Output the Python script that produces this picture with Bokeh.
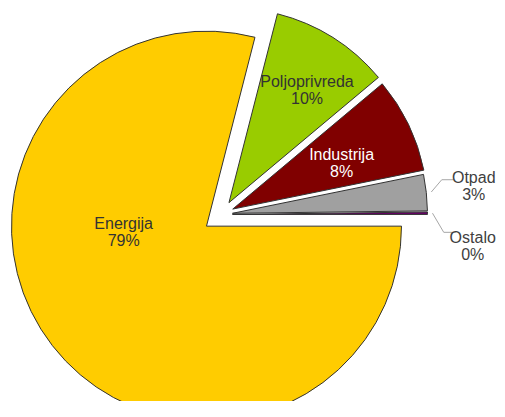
import math
from bokeh.plotting import figure
from bokeh.models import Range1d
from bokeh.embed import file_html
from bokeh.resources import INLINE
from bokeh.core.properties import value

# ---- data ----
categories = ["Energija", "Poljoprivreda", "Industrija", "Otpad", "Ostalo"]
shares = [79.0, 9.9, 7.9, 3.0, 0.2]

# ---- style / layout ----
colors = ["#FFCC00", "#99CC00", "#800000", "#A0A0A0", "#660066"]
explode = [19, 14, 12.5, 11, 11]           # px along mid-angle
text_colors = ["#333333", "#333333", "#FFFFFF", "#404040", "#404040"]
inside = [True, True, True, False, False]
label_dist = [83, 137, 118, 0, 0]
label_dang = [-34.0, -2.5, -3.0, 0.0, 0.0]
leader_dang = [0, 0, 0, 3.0, -5.2]
leader_dx = [0, 0, 0, 20, 17]
leader_dy = [0, 0, 0, -6.5, -13.3]

W, H = 497, 401
PAGE_H = 417
CX, CY = 221, PAGE_H - 214
R = 195
FONT = value("Liberation Sans")
FS = "16px"

p = figure(width=W, height=H, x_range=Range1d(0, W),
           y_range=Range1d(PAGE_H - H, PAGE_H),
           output_backend="svg", toolbar_location=None, min_border=0)
p.axis.visible = False
p.grid.visible = False
p.outline_line_color = None
p.background_fill_color = "white"
p.border_fill_color = "white"

total = sum(shares)
cum = 0.0
for i, (cat, s) in enumerate(zip(categories, shares)):
    a_end = -cum / total * 2 * math.pi
    cum += s
    a_start = -cum / total * 2 * math.pi
    mid = (a_start + a_end) / 2
    ox = CX + explode[i] * math.cos(mid)
    oy = CY + explode[i] * math.sin(mid)
    p.wedge(x=[ox], y=[oy], radius=R, start_angle=[a_start], end_angle=[a_end],
            fill_color=colors[i], line_color="#333333", line_width=1)
    pct = f"{round(s / total * 100)}%"
    if inside[i]:
        ang = mid + math.radians(label_dang[i])
        lx = ox + label_dist[i] * math.cos(ang)
        ly = oy + label_dist[i] * math.sin(ang)
    else:
        sx = ox + (R + 5) * math.cos(mid)
        sy = oy + (R + 5) * math.sin(mid)
        ang = mid + math.radians(leader_dang[i])
        ex = ox + (R + 17) * math.cos(ang)
        ey = oy + (R + 17) * math.sin(ang)
        p.line(x=[sx, ex, ex + 12], y=[sy, ey, ey], line_color="#A6A6A6", line_width=1)
        lx = ex + 12 + leader_dx[i]
        ly = ey + leader_dy[i]
    p.text(x=[lx, lx], y=[ly + 8.5, ly - 8.5], text=[cat, pct],
           text_align="center", text_baseline="middle",
           text_font=FONT, text_font_size=FS, text_color=text_colors[i])

open("out.html", "w").write(file_html(p, INLINE))
